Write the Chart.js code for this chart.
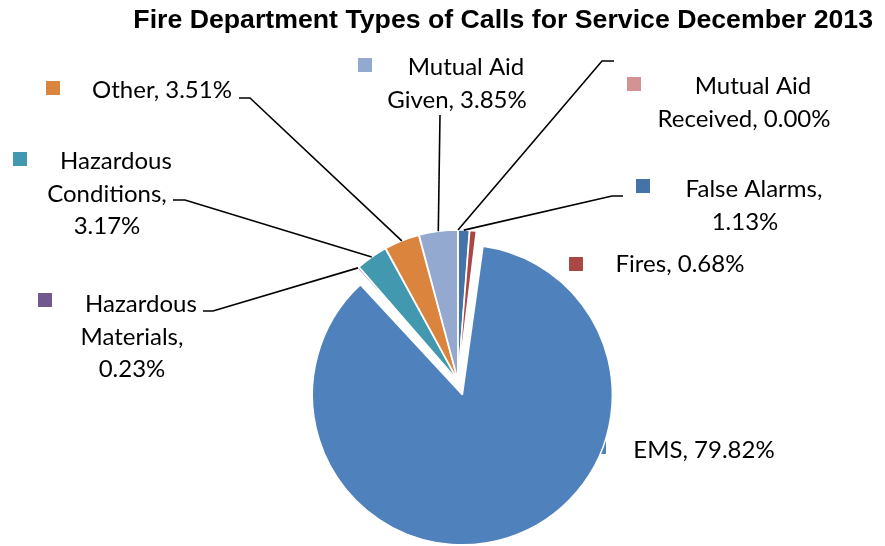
<!DOCTYPE html>
<html>
<head>
<meta charset="utf-8">
<script src="https://cdn.jsdelivr.net/npm/chart.js"></script>
<style>
  body { margin: 0; background: #fff; }
  #wrap { width: 885px; height: 546px; position: relative; }
</style>
</head>
<body>
<div id="wrap"><canvas id="callsChart"></canvas></div>
<script>
// December 2013 call types, percent of all calls (clockwise from 12 o'clock)
const categories = ['False Alarms', 'Fires', 'EMS', 'Hazardous Materials', 'Hazardous Conditions', 'Other', 'Mutual Aid Given', 'Mutual Aid Received'];
const percents = [1.13, 0.68, 79.82, 0.23, 3.17, 3.51, 3.85, 0.00];
const sliceColors = ['#4572A7', '#AA4643', '#4F81BD', '#71588F', '#4198AF', '#DB843D', '#93A9CF', '#D39392'];

// where each data label sits: x = centre of text block, base = first baseline,
// wrap = words per line, key = top-left of the colour square, lead = leader line points
const callouts = [
  { x: 745, base: 197, wrap: [2, 1], key: [636, 179], lead: [[623, 196], [612, 196]] },
  { x: 680, base: 272, wrap: [2], key: [569, 257] },
  { x: 704, base: 458, wrap: [2], key: [592, 440], under: true },
  { x: 132, base: 312, wrap: [1, 1, 1], key: [38, 293], lead: [[203, 311], [213, 311]] },
  { x: 107, base: 169, wrap: [1, 1, 1], key: [13, 152], lead: [[173, 200], [185, 200]] },
  { x: 162, base: 98, wrap: [2], key: [46, 81], lead: [[239, 98], [250, 98]] },
  { x: 457, base: 75, wrap: [2, 2], key: [358, 58], lead: [[440, 115]] },
  { x: 744, base: 94, wrap: [2, 2], key: [627, 77], lead: [[614, 61], [602, 61]] }
];

const labelFont = '24px Lato';
const lineGap = 32.5;
const keySize = 14;

function labelLines(i) {
  const words = (categories[i] + ', ' + percents[i].toFixed(2) + '%').split(' ');
  const out = [];
  let k = 0;
  callouts[i].wrap.forEach(n => {
    out.push(words.slice(k, k + n).join(' '));
    k += n;
  });
  return out;
}

// exploded arcs are drawn with a slightly bigger radius; this is that extra bit
function offsetGrowth(arc) {
  const off = (arc.options.offset || 0) / 4;
  return off * (1 - Math.sin(Math.min(Math.PI, arc.circumference || 0)));
}

// outer edge point at the middle of a slice, as it ends up on screen
function edgePoint(arc) {
  const off = (arc.options.offset || 0) / 4;
  const mid = (arc.startAngle + arc.endAngle) / 2;
  const r = off + arc.outerRadius + offsetGrowth(arc);
  return [arc.x + Math.cos(mid) * r, arc.y + Math.sin(mid) * r];
}

const calloutPlugin = {
  id: 'callouts',
  afterDatasetsUpdate(chart) {
    // keep every slice at the same visible radius, exploded or not
    chart.getDatasetMeta(0).data.forEach(arc => {
      arc.outerRadius -= offsetGrowth(arc);
    });
  },
  beforeDatasetsDraw(chart) {
    const ctx = chart.ctx;
    callouts.forEach((c, i) => {
      if (!c.under) return;
      ctx.fillStyle = sliceColors[i];
      ctx.fillRect(c.key[0], c.key[1], keySize, keySize);
    });
  },
  afterDatasetsDraw(chart) {
    const ctx = chart.ctx;
    const arcs = chart.getDatasetMeta(0).data;
    ctx.save();
    ctx.font = labelFont;
    ctx.textBaseline = 'alphabetic';
    ctx.textAlign = 'center';
    callouts.forEach((c, i) => {
      if (!c.under) {
        ctx.fillStyle = sliceColors[i];
        ctx.fillRect(c.key[0], c.key[1], keySize, keySize);
      }
      ctx.fillStyle = '#000';
      const lines = labelLines(i);
      lines.forEach((t, j) => {
        const dx = (lines.length > 1 && j === 0) ? 9 : 0;
        ctx.fillText(t, c.x + dx, c.base + j * lineGap);
      });
      if (c.lead) {
        const end = edgePoint(arcs[i]);
        ctx.beginPath();
        ctx.strokeStyle = '#000';
        ctx.lineWidth = 1.6;
        ctx.moveTo(c.lead[0][0], c.lead[0][1]);
        for (let k = 1; k < c.lead.length; k++) ctx.lineTo(c.lead[k][0], c.lead[k][1]);
        ctx.lineTo(end[0], end[1]);
        ctx.stroke();
      }
    });
    ctx.restore();
  }
};

const titleSize = 26.7;

new Chart(document.getElementById('callsChart'), {
  type: 'pie',
  data: {
    labels: categories,
    datasets: [{
      data: percents,
      backgroundColor: sliceColors,
      borderColor: '#fff',
      borderWidth: 1.5,
      offset: [4, 4, 58, 4, 4, 4, 4, 4]
    }]
  },
  options: {
    responsive: true,
    maintainAspectRatio: false,
    animation: false,
    radius: 150,
    layout: { padding: { left: 43, right: 12, top: 0, bottom: 0 } },
    plugins: {
      legend: { display: false },
      tooltip: { enabled: false },
      title: {
        display: true,
        text: 'Fire Department Types of Calls for Service December 2013',
        align: 'end',
        color: '#000',
        font: { family: '"Liberation Sans", Arial, sans-serif', size: titleSize, weight: 'bold', lineHeight: 1.2 },
        padding: { top: 5, bottom: 216 - 5 - titleSize * 1.2 }
      }
    }
  },
  plugins: [calloutPlugin]
});
</script>
</body>
</html>
